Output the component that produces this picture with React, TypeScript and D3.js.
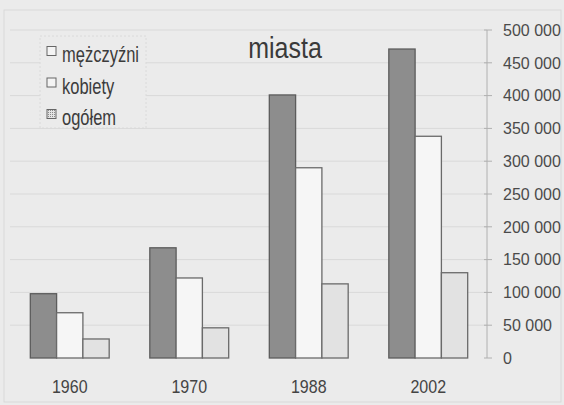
import { useMemo } from "react";
import * as d3 from "d3";

const YEARS = ["1960", "1970", "1988", "2002"];
const SERIES = ["mężczyźni", "kobiety", "ogółem"];
const MEN = [98000, 168000, 401000, 471000];
const WOMEN = [69000, 122000, 290000, 338000];
const TOTAL = [29000, 46000, 113000, 130000];
const Y_TICKS = [0, 50000, 100000, 150000, 200000, 250000, 300000, 350000, 400000, 450000, 500000];

const FILLS = ["#8d8d8d", "#f6f6f6", "#e2e2e2"];
const STROKES = ["#5c5c5c", "#6a6a6a", "#6a6a6a"];
const FONT = "'Liberation Sans', Arial, sans-serif";

const W = 564;
const H = 405;

const fmt = (v: number) => d3.format(",")(v).replace(/,/g, " ");

export default function App() {
  const values = [MEN, WOMEN, TOTAL];

  const x = useMemo(
    () => d3.scaleBand<string>().domain(YEARS).range([10, 488]).paddingInner(0.34).paddingOuter(0.17),
    []
  );
  const xs = useMemo(
    () => d3.scaleBand<string>().domain(SERIES).range([0, x.bandwidth()]).padding(0),
    [x]
  );
  const y = useMemo(() => d3.scaleLinear().domain([0, 500000]).range([358, 30]), []);

  const axisX = 487;

  return (
    <svg
      width={W}
      height={H}
      style={{ position: "absolute", left: 0, top: 0, background: "#ebebeb" }}
      fontFamily={FONT}
    >
      <defs>
        <pattern id="dots" width="2" height="2" patternUnits="userSpaceOnUse">
          <rect width="2" height="2" fill="#e4e4e4" />
          <rect width="1" height="1" fill="#8a8a8a" />
        </pattern>
      </defs>
      <rect x={0} y={0} width={W} height={H} fill="#ebebeb" />
      <rect x={4} y={10} width={557} height={392} fill="none" stroke="#d9d9d9" />

      {/* gridlines */}
      {Y_TICKS.slice(1).map((t) => (
        <line key={t} x1={10} x2={axisX} y1={y(t)} y2={y(t)} stroke="#d9d9d9" />
      ))}

      {/* legend box (covers gridlines) */}
      <rect x={40} y={36} width={106} height={92} fill="#ebebeb" stroke="#dadada" strokeDasharray="2 2" />

      {/* bars */}
      {YEARS.map((yr, i) => (
        <g key={yr} transform={`translate(${x(yr)},0)`}>
          {SERIES.map((s, j) => (
            <rect
              key={s}
              x={xs(s)}
              y={y(values[j][i])}
              width={xs.bandwidth()}
              height={y(0) - y(values[j][i])}
              fill={FILLS[j]}
              stroke={STROKES[j]}
              strokeWidth={1.3}
            />
          ))}
        </g>
      ))}

      {/* right axis */}
      <line x1={axisX} x2={axisX} y1={y(500000)} y2={y(0)} stroke="#b0b0b0" />
      {Y_TICKS.map((t) => (
        <g key={t} transform={`translate(0,${y(t)})`}>
          <line x1={axisX - 3} x2={axisX + 5} stroke="#b0b0b0" />
          <text x={503} dy="0.36em" fontSize={16} fill="#4a4a4a">
            {fmt(t)}
          </text>
        </g>
      ))}

      {/* category labels */}
      {YEARS.map((yr) => (
        <text
          key={yr}
          transform={`translate(${x(yr)! + x.bandwidth() / 2},393) scale(1,1.15)`}
          textAnchor="middle"
          fontSize={16}
          fill="#444"
        >
          {yr}
        </text>
      ))}

      {/* title */}
      <text transform="translate(285,58) scale(1,1.15)" textAnchor="middle" fontSize={25} fill="#3a3a3a">
        miasta
      </text>

      {/* legend */}
      {SERIES.map((s, j) => (
        <g key={s} transform={`translate(0,${51 + j * 31.5})`}>
          <rect
            x={47}
            y={-4.5}
            width={9}
            height={9}
            fill={j === 2 ? "url(#dots)" : "#f4f4f4"}
            stroke="#666"
          />
          <text transform="translate(62,11) scale(1,1.35)" fontSize={16.5} fill="#3c3c3c">
            {s}
          </text>
        </g>
      ))}
    </svg>
  );
}
